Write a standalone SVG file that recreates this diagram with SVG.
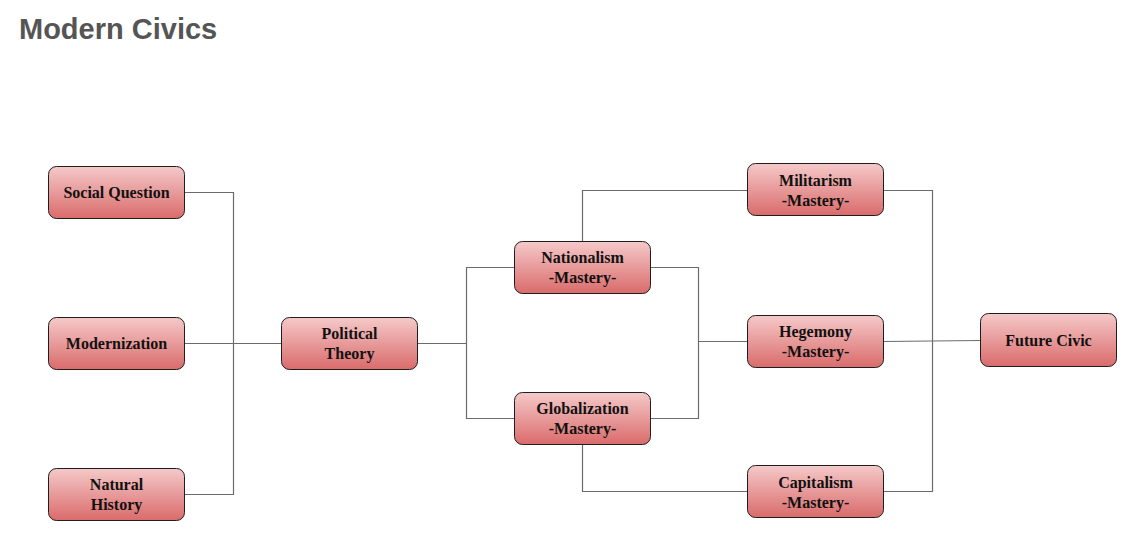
<svg xmlns="http://www.w3.org/2000/svg" width="1129" height="539" viewBox="0 0 1129 539">
<style>
.node rect{fill:url(#g);stroke:#1e1e1e;stroke-width:1}
.node text{font-family:"Liberation Serif","Times New Roman",serif;font-weight:bold;font-size:16px;fill:#111;text-anchor:middle}
.conn path{fill:none;stroke:#6b6b6b;stroke-width:1.2}
.title{font-family:"Liberation Sans",Arial,sans-serif;font-weight:bold;font-size:29px;fill:#555}
</style>
<defs>
<linearGradient id="g" x1="0" y1="0" x2="0" y2="1">
<stop offset="0" stop-color="#f5c9c9"/>
<stop offset="1" stop-color="#da6b6b"/>
</linearGradient>
</defs>
<rect width="1129" height="539" fill="#fff"/>
<text class="title" x="19" y="39">Modern Civics</text>
<g class="conn" id="connectors">
<path d="M184.5,192.5H233.5V494.5H184.5"/>
<path d="M184.5,343.5H282"/>
<path d="M417,343.5H466.5"/>
<path d="M514,267.5H466.5V418.5H514"/>
<path d="M582.5,241V190.5H747"/>
<path d="M582.5,445V491.5H747"/>
<path d="M650,267.5H698.5V418.5H650"/>
<path d="M698.5,341.5H747"/>
<path d="M883,190.5H932.5V491.5H883"/>
<path d="M883,341.5L980,340.5"/>
</g>
<g class="node" id="n-social"><rect x="48.5" y="166.5" width="136" height="52" rx="8"/><text x="116.5" y="198">Social Question</text></g>
<g class="node" id="n-modern"><rect x="48.5" y="317.5" width="136" height="52" rx="8"/><text x="116.5" y="349">Modernization</text></g>
<g class="node" id="n-natural"><rect x="48.5" y="468.5" width="136" height="52" rx="8"/><text x="116.5" y="490">Natural</text><text x="116.5" y="510">History</text></g>
<g class="node" id="n-political"><rect x="281.5" y="317.5" width="136" height="52" rx="8"/><text x="349.5" y="339">Political</text><text x="349.5" y="359">Theory</text></g>
<g class="node" id="n-national"><rect x="514.5" y="241.5" width="136" height="52" rx="8"/><text x="582.5" y="263">Nationalism</text><text x="582.5" y="283">-Mastery-</text></g>
<g class="node" id="n-global"><rect x="514.5" y="392.5" width="136" height="52" rx="8"/><text x="582.5" y="414">Globalization</text><text x="582.5" y="434">-Mastery-</text></g>
<g class="node" id="n-milit"><rect x="747.5" y="163.5" width="136" height="52" rx="8"/><text x="815.5" y="186">Militarism</text><text x="815.5" y="206">-Mastery-</text></g>
<g class="node" id="n-hegem"><rect x="747.5" y="315.5" width="136" height="52" rx="8"/><text x="815.5" y="337">Hegemony</text><text x="815.5" y="357">-Mastery-</text></g>
<g class="node" id="n-capit"><rect x="747.5" y="465.5" width="136" height="52" rx="8"/><text x="815.5" y="488">Capitalism</text><text x="815.5" y="508">-Mastery-</text></g>
<g class="node" id="n-future"><rect x="980.5" y="313.5" width="136" height="53" rx="8"/><text x="1048.5" y="346">Future Civic</text></g>
</svg>
